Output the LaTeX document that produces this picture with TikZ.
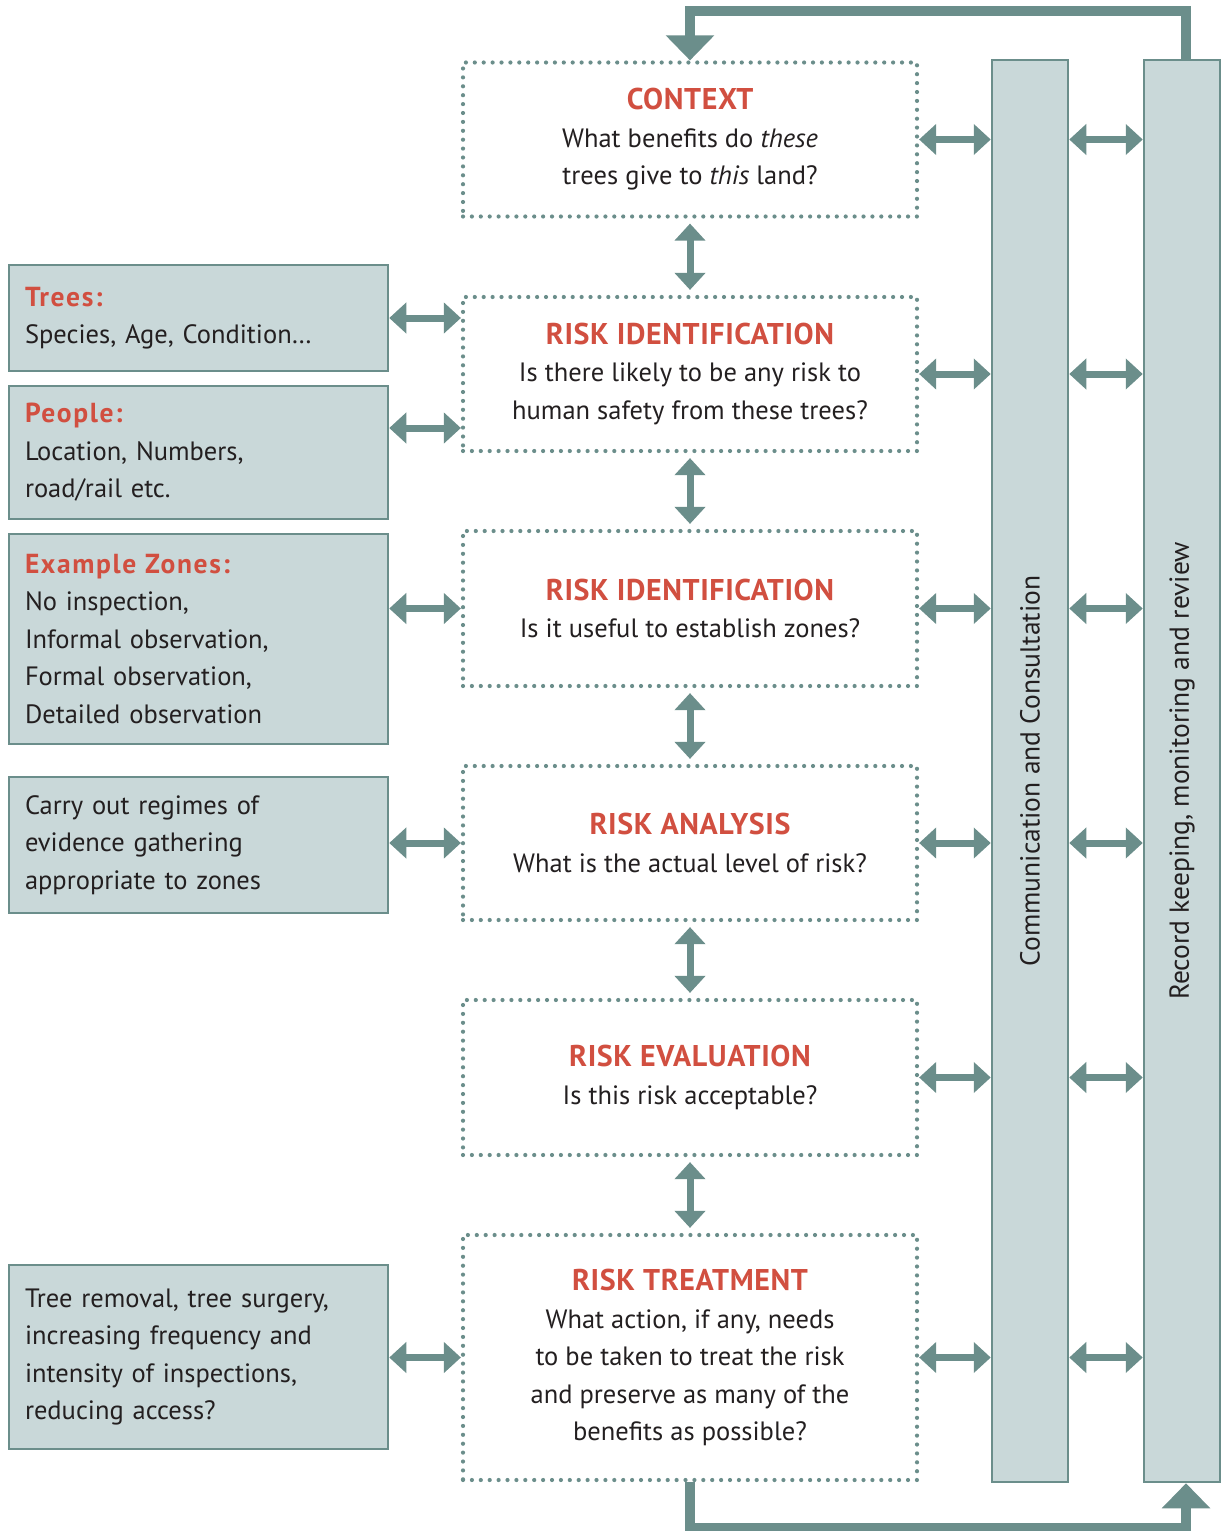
\documentclass[tikz,border=0pt]{standalone}
\usepackage{fontspec}
\setmainfont{PT Sans}
\usetikzlibrary{arrows.meta}
\definecolor{riskteal}{HTML}{6B8E8B}
\definecolor{riskfill}{HTML}{C9D8D9}
\definecolor{riskred}{HTML}{D14F40}
\definecolor{risktext}{HTML}{231F20}
\newcommand{\rhead}[1]{{\fontsize{30}{37.5}\selectfont\bfseries\addfontfeature{LetterSpace=2}\color{riskred}#1}}
\newcommand{\shead}[1]{{\fontsize{27.5}{37.5}\selectfont\bfseries\addfontfeature{LetterSpace=6}\color{riskred}#1}}

\begin{document}
\begin{tikzpicture}[x=1pt,y=-1pt,
	mainbox/.style={draw=riskteal,line width=4.2pt,dash pattern=on 0pt off 8.9pt,line cap=round,
		minimum width=454pt,inner sep=0pt,align=center,text=risktext,font=\fontsize{26.5}{37.5}\selectfont},
	sidebox/.style={draw=riskteal,fill=riskfill,line width=2.5pt,minimum width=379pt,text width=347pt,
		inner xsep=16pt,align=left,text=risktext,font=\fontsize{26.5}{37.5}\selectfont},
	bar/.style={draw=riskteal,fill=riskfill,line width=2.5pt,minimum width=76pt,minimum height=1422pt},
	bartext/.style={rotate=90,text=risktext,font=\fontsize{27.5}{30}\selectfont},
	dblarrow/.style={draw=riskteal,line width=7pt,{Triangle[length=17pt,width=30pt]}-{Triangle[length=17pt,width=30pt]}},
	loop/.style={draw=riskteal,line width=10pt,-{Triangle[length=25pt,width=47pt]}}]
	\useasboundingbox (0,0) rectangle (1221,1531);

	% steps
	\node[mainbox,minimum height=154pt] (ctx) at (690,139.5) {\rhead{CONTEXT}\\What benefits do \emph{these}\\trees give to \emph{this} land?};
	\node[mainbox,minimum height=154pt] (id1) at (690,374) {\rhead{RISK IDENTIFICATION}\\Is there likely to be any risk to\\human safety from these trees?};
	\node[mainbox,minimum height=155pt] (id2) at (690,608.5) {\rhead{RISK IDENTIFICATION}\\Is it useful to establish zones?};
	\node[mainbox,minimum height=154pt] (ana) at (690,843) {\rhead{RISK ANALYSIS}\\What is the actual level of risk?};
	\node[mainbox,minimum height=155pt] (eva) at (690,1077.5) {\rhead{RISK EVALUATION}\\Is this risk acceptable?};
	\node[mainbox,minimum height=245pt] (treat) at (690,1357.5) {\rhead{RISK TREATMENT}\\What action, if any, needs\\to be taken to treat the risk\\and preserve as many of the\\benefits as possible?};

	% inputs
	\node[sidebox,minimum height=106pt] (trees) at (198.5,318) {\shead{Trees:}\\Species, Age, Condition…};
	\node[sidebox,minimum height=133pt] (people) at (198.5,452.5) {\shead{People:}\\Location, Numbers,\\road/rail etc.};
	\node[sidebox,minimum height=210pt] (zones) at (198.5,639) {\shead{Example Zones:}\\No inspection,\\Informal observation,\\Formal observation,\\Detailed observation};
	\node[sidebox,minimum height=136pt] (carry) at (198.5,845) {Carry out regimes of\\evidence gathering\\appropriate to zones};
	\node[sidebox,minimum height=184pt] (removal) at (198.5,1357) {Tree removal, tree surgery,\\increasing frequency and\\intensity of inspections,\\reducing access?};

	% side bars
	\node[bar] (comm) at (1030,771) {};
	\node[bar] (rec) at (1182,771) {};
	\node[bartext] (commtext) at (comm) {Communication and Consultation};
	\node[bartext] (rectext) at (rec) {Record keeping, monitoring and review};

	% arrows
	\foreach \a/\b in {ctx/id1,id1/id2,id2/ana,ana/eva,eva/treat}
		\draw[dblarrow,shorten <=5pt,shorten >=5pt] (\a) -- (\b);
	\foreach \b in {ctx,id1,id2,ana,eva,treat}{
		\draw[dblarrow] (\b.east) -- (\b.east -| comm.west);
		\draw[dblarrow] (\b.east -| comm.east) -- (\b.east -| rec.west);
	}
	\draw[dblarrow] (trees.east) -- (trees.east -| id1.west);
	\draw[dblarrow] ([yshift=24.5pt]people.east) -- ([yshift=24.5pt]people.east -| id1.west);
	\draw[dblarrow] (id2.west -| zones.east) -- (id2.west);
	\draw[dblarrow] (ana.west -| carry.east) -- (ana.west);
	\draw[dblarrow] (treat.west -| removal.east) -- (treat.west);

	% review loop
	\draw[loop] ([xshift=4pt]rec.north) -- ++(0,-48) -| (ctx.north);
	\draw[loop] (treat.south) -- ++(0,46) -| ([xshift=4pt]rec.south);
\end{tikzpicture}
\end{document}
